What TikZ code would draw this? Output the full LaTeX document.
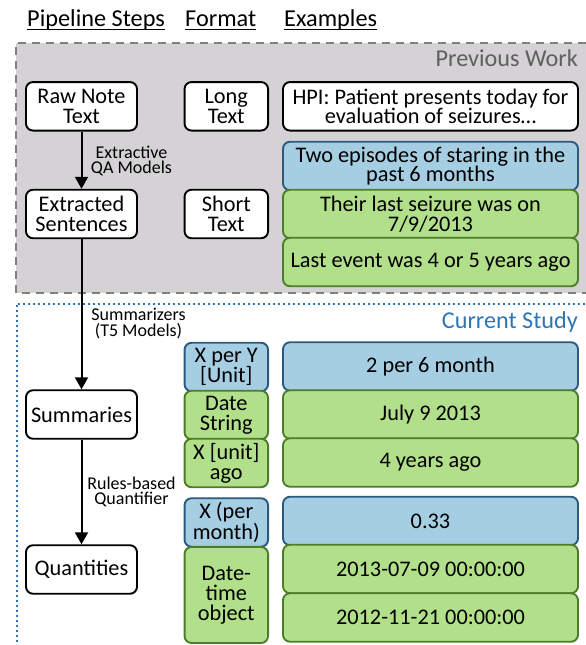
\documentclass[tikz,border=0pt]{standalone}
\usepackage{fontspec}
\setmainfont{Carlito}
\usetikzlibrary{arrows.meta}
\definecolor{bluefill}{HTML}{A6CEE3}
\definecolor{blueline}{HTML}{2B5A7E}
\definecolor{greenfill}{HTML}{B2DF8A}
\definecolor{greenline}{HTML}{4E7D2A}
\definecolor{grayfill}{HTML}{D4D2D4}
\definecolor{grayline}{HTML}{808080}
\definecolor{dotblue}{HTML}{2E75B6}
\definecolor{prevgray}{HTML}{5F5F5F}
\begin{document}
\begin{tikzpicture}[x=1pt,y=-1pt,
  basebox/.style={line width=1.9pt, rounded corners=7pt, align=center, inner sep=0pt,
    font=\fontsize{22.3}{19.8}\selectfont},
  wbox/.style={basebox, draw=black, fill=white},
  bbox/.style={basebox, draw=blueline, fill=bluefill},
  gbox/.style={basebox, draw=greenline, fill=greenfill},
  stepbox/.style={minimum width=111pt, minimum height=48.5pt},
  fmtbox/.style={minimum width=83.5pt, minimum height=48.5pt},
  exbox/.style={minimum width=295pt, minimum height=48.5pt},
  header/.style={anchor=base west, inner sep=0pt, font=\fontsize{24.3}{26}\selectfont},
  ulinestyle/.style={line width=1.4pt},
  regionlabel/.style={anchor=base east, inner sep=0pt, font=\fontsize{24.2}{26}\selectfont},
  arrowlabel/.style={align=center, inner sep=0pt, font=\fontsize{18}{15.5}\selectfont},
  flow/.style={line width=2pt, -{Triangle[width=13pt,length=12pt]}}
]
\useasboundingbox (0,0) rectangle (586,645);
\clip (0,0) rectangle (586,645);

% region boxes
\fill[grayfill] (16,43) rectangle (600,293);
\draw[grayline, line width=2.2pt, dash pattern=on 8pt off 6pt] (600,43) -- (16,43) -- (16,293) -- (600,293);
\draw[dotblue, line width=2pt, dash pattern=on 2pt off 3pt] (600,303.5) -- (16.5,303.5) -- (16.5,660);

\node[regionlabel, text=prevgray] (prev) at (578,66.7) {Previous Work};
\node[regionlabel, text=dotblue] (curr) at (578,328.5) {Current Study};

% headers
\node[header] (h1) at (27,26) {Pipeline Steps};
\node[header] (h2) at (185,26) {Format};
\node[header] (h3) at (284,26) {Examples};
\foreach \h in {h1,h2,h3}
  \draw[ulinestyle] ([yshift=-3.5pt]\h.base west) -- ([yshift=-3.5pt]\h.base east);

% pipeline steps
\node[wbox, stepbox] (raw) at (81.5,106.3) {Raw Note\\Text};
\node[wbox, stepbox] (ext) at (81.5,214) {Extracted\\Sentences};
\node[wbox, stepbox] (sum) at (81.5,414.5) {Summaries};
\node[wbox, stepbox] (qty) at (81.5,569.5) {Quantities};

% formats
\node[wbox, fmtbox] (long) at (226.3,106.3) {Long\\Text};
\node[wbox, fmtbox] (short) at (226.3,214) {Short\\Text};
\node[bbox, fmtbox] (xpy) at (226.3,367) {X per Y\\{[Unit]}};
\node[gbox, fmtbox] (dstr) at (226.3,415) {Date\\String};
\node[gbox, fmtbox] (xago) at (226.3,463) {X [unit]\\ago};
\node[bbox, fmtbox] (xpm) at (226.3,522.5) {X (per\\month)};
\node[gbox, fmtbox, minimum height=96pt] (dto) at (226.3,595) {Date-\\time\\object};

% examples
\node[wbox, exbox] (e1) at (430.5,106.3) {HPI: Patient presents today for\\evaluation of seizures\dots};
\node[bbox, exbox] (e2) at (430.5,166) {Two episodes of staring in the\\past 6 months};
\node[gbox, exbox] (e3) at (430.5,214) {Their last seizure was on\\7/9/2013};
\node[gbox, exbox] (e4) at (430.5,262) {Last event was 4 or 5 years ago};
\node[bbox, exbox] (e5) at (430.5,366.5) {2 per 6 month};
\node[gbox, exbox] (e6) at (430.5,414.5) {July 9 2013};
\node[gbox, exbox] (e7) at (430.5,462.5) {4 years ago};
\node[bbox, exbox] (e8) at (430.5,521) {0.33};
\node[gbox, exbox] (e9) at (430.5,569) {2013-07-09 00:00:00};
\node[gbox, exbox] (e10) at (430.5,617.5) {2012-11-21 00:00:00};

% flow arrows
\draw[flow] (raw) -- (ext);
\draw[flow] (ext) -- (sum);
\draw[flow] (sum) -- (qty);

\node[arrowlabel] (l1) at (131.5,161) {Extractive\\QA Models};
\node[arrowlabel] (l2) at (138.5,323.5) {Summarizers\\(T5 Models)};
\node[arrowlabel] (l3) at (131.5,492) {Rules-based\\Quantifier};
\end{tikzpicture}
\end{document}
